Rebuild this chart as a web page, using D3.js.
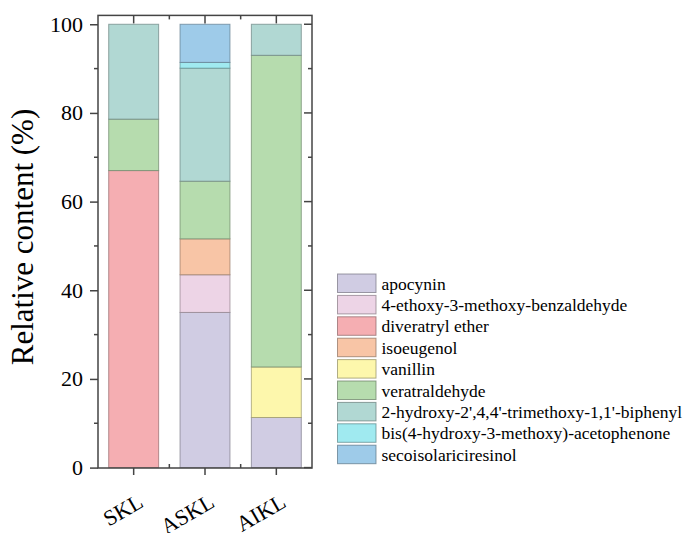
<!DOCTYPE html>
<html>
<head>
<meta charset="utf-8">
<script src="https://cdn.jsdelivr.net/npm/d3@7"></script>
<style>
  body { margin: 0; background: #fff; }
</style>
</head>
<body>
<script>
// samples on x axis
const samples = ['SKL', 'ASKL', 'AIKL'];

// compounds, bottom to top of stack
const compounds = [
    'apocynin',
    '4-ethoxy-3-methoxy-benzaldehyde',
    'diveratryl ether',
    'isoeugenol',
    'vanillin',
    'veratraldehyde',
    "2-hydroxy-2',4,4'-trimethoxy-1,1'-biphenyl",
    'bis(4-hydroxy-3-methoxy)-acetophenone',
    'secoisolariciresinol'
];

// relative content (%) per compound, ordered as samples
const apocynin = [0, 35.0, 11.3];
const ethoxyBenz = [0, 8.5, 0];
const diveratryl = [67.0, 0, 0];
const isoeugenol = [0, 8.1, 0];
const vanillin = [0, 0, 11.4];
const veratraldehyde = [11.6, 13.0, 70.3];
const biphenyl = [21.4, 25.5, 7.0];
const bisAceto = [0, 1.3, 0];
const seco = [0, 8.6, 0];

const colors = ['#d0cce3', '#edd4e6', '#f5aeb2', '#f8c5a6', '#fdf7ac', '#b6dcae', '#b1d8d3', '#a0eaf0', '#9ecbe9'];

const yTicks = [0, 20, 40, 60, 80, 100];
const minorY = [10, 30, 50, 70, 90];

const seriesVals = [apocynin, ethoxyBenz, diveratryl, isoeugenol, vanillin, veratraldehyde, biphenyl, bisAceto, seco];

const rows = samples.map(function (s, i) {
    const r = { sample: s };
    compounds.forEach(function (c, k) { r[c] = seriesVals[k][i]; });
    return r;
});

const FONT = "'Liberation Serif', 'Times New Roman', serif";
const width = 689, height = 533;
const margin = { top: 15, right: 377, bottom: 65, left: 98 };

const svg = d3.select('body')
    .append('svg')
    .attr('width', width)
    .attr('height', height);

const xScale = d3.scaleBand()
    .domain(samples)
    .range([margin.left, width - margin.right])
    .paddingInner(0.3)
    .paddingOuter(0.15);

const yScale = d3.scaleLinear()
    .domain([0, 102])
    .range([467.6, 15.4]);

const stack = d3.stack().keys(compounds);
const layers = stack(rows);

// bars
const layerGroup = svg.selectAll('.layer')
    .data(layers).enter().append('g')
    .attr('class', 'layer')
    .attr('fill', (d, i) => colors[i])
    .attr('stroke', (d, i) => d3.color(colors[i]).darker(1.4))
    .attr('stroke-opacity', 0.7)
    .attr('stroke-width', 1);

layerGroup.selectAll('rect')
    .data(d => d.filter(p => p[1] - p[0] > 0))
    .enter().append('rect')
    .attr('x', d => xScale(d.data.sample))
    .attr('width', xScale.bandwidth())
    .attr('y', d => yScale(d[1]))
    .attr('height', d => yScale(d[0]) - yScale(d[1]));

// frame
const x0 = margin.left, x1 = width - margin.right;
const y0 = 468, y1 = 15.4;
svg.append('rect')
    .attr('x', x0).attr('y', y1)
    .attr('width', x1 - x0).attr('height', y0 - y1)
    .attr('fill', 'none')
    .attr('stroke', '#444')
    .attr('stroke-width', 1.5);

// left axis
const yAxis = d3.axisLeft(yScale).tickValues(yTicks).tickSize(8).tickPadding(7);
const yAxisGroup = svg.append('g')
    .attr('class', 'y axis')
    .attr('transform', `translate(${x0},0)`)
    .call(yAxis);
yAxisGroup.select('.domain').remove();
yAxisGroup.selectAll('line').attr('stroke', '#444').attr('stroke-width', 1.5);
yAxisGroup.selectAll('text')
    .attr('fill', '#000')
    .style('font-family', FONT)
    .style('font-size', '22px');

svg.append('g').selectAll('line')
    .data(minorY).enter().append('line')
    .attr('x1', x0 - 4).attr('x2', x0)
    .attr('y1', d => yScale(d)).attr('y2', d => yScale(d))
    .attr('stroke', '#444').attr('stroke-width', 1.5);

// right side ticks (inward)
svg.append('g').selectAll('line')
    .data(yTicks.concat(minorY)).enter().append('line')
    .attr('x1', d => yTicks.includes(d) ? x1 - 8 : x1 - 4).attr('x2', x1)
    .attr('y1', d => yScale(d)).attr('y2', d => yScale(d))
    .attr('stroke', '#444').attr('stroke-width', 1.5);

// bottom axis
const xAxisGroup = svg.append('g')
    .attr('class', 'x axis')
    .attr('transform', `translate(0,${y0})`)
    .call(d3.axisBottom(xScale).tickSize(7).tickFormat(''));
xAxisGroup.select('.domain').remove();
xAxisGroup.selectAll('line').attr('stroke', '#444').attr('stroke-width', 1.5);

const minorX = [samples.slice(0, 2), samples.slice(1)].map(p =>
    (xScale(p[0]) + xScale(p[1])) / 2 + xScale.bandwidth() / 2);

svg.append('g').selectAll('line')
    .data(minorX).enter().append('line')
    .attr('x1', d => d).attr('x2', d => d)
    .attr('y1', y0 - 4).attr('y2', y0)
    .attr('stroke', '#444').attr('stroke-width', 1.5);

// top ticks (inward)
const topTicks = samples.map(s => ({ x: xScale(s) + xScale.bandwidth() / 2, len: 8 }))
    .concat(minorX.map(x => ({ x: x, len: 4 })));
svg.append('g').selectAll('line')
    .data(topTicks).enter().append('line')
    .attr('x1', d => d.x).attr('x2', d => d.x)
    .attr('y1', y1).attr('y2', d => y1 + d.len)
    .attr('stroke', '#444').attr('stroke-width', 1.5);

// rotated sample labels
svg.append('g').selectAll('text')
    .data(samples).enter().append('text')
    .attr('transform', d => `translate(${xScale(d) + xScale.bandwidth() / 2 + 11},506) rotate(-30)`)
    .attr('text-anchor', 'end')
    .attr('fill', '#000')
    .style('font-family', FONT)
    .style('font-size', '22px')
    .text(d => d);

// y axis title
svg.append('text')
    .attr('transform', 'translate(33,237) rotate(-90)')
    .attr('text-anchor', 'middle')
    .attr('fill', '#000')
    .style('font-family', FONT)
    .style('font-size', '31px')
    .text('Relative content (%)');

// legend
const legend = svg.append('g')
    .attr('transform', 'translate(337.5,274)');
const legendItem = legend.selectAll('.legendItem')
    .data(compounds).enter().append('g')
    .attr('class', 'legendItem')
    .attr('transform', (d, i) => `translate(0,${i * 21.4})`);
legendItem.append('rect')
    .attr('width', 38.5)
    .attr('height', 18.5)
    .attr('fill', (d, i) => colors[i])
    .attr('stroke', (d, i) => d3.color(colors[i]).darker(1.6))
    .attr('stroke-opacity', 0.7)
    .attr('stroke-width', 1);
legendItem.append('text')
    .attr('x', 44)
    .attr('y', 9.5)
    .attr('dy', '0.35em')
    .attr('fill', '#000')
    .style('font-family', FONT)
    .style('font-size', '17.5px')
    .text(d => d);
</script>
</body>
</html>
